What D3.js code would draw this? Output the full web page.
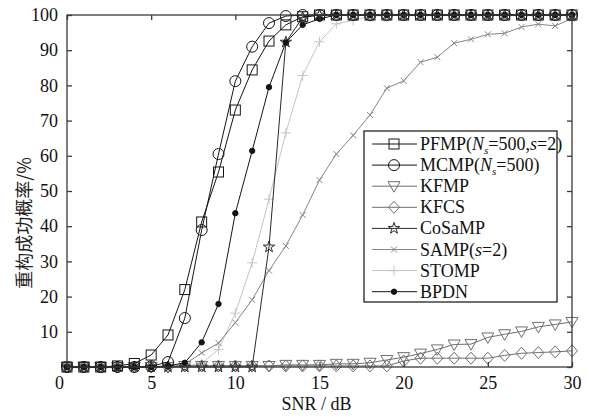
<!DOCTYPE html>
<html><head><meta charset="utf-8">
<script src="https://cdn.jsdelivr.net/npm/d3@7"></script>
<style>body{margin:0;background:#fff}svg{display:block}text{font-family:"Liberation Serif","Times New Roman",serif}</style>
</head><body>
<script>
const snr = [0,1,2,3,4,5,6,7,8,9,10,11,12,13,14,15,16,17,18,19,20,21,22,23,24,25,26,27,28,29,30];
const xTicks = [0,5,10,15,20,25,30];
const yTicks = [0,10,20,30,40,50,60,70,80,90,100];
const PFMP   = [0,0,0,0.3,1.0,3.4,9.1,22,41.2,55.4,73,84.4,92.6,97.2,99.5,100,100,100,100,100,100,100,100,100,100,100,100,100,100,100,100];
const MCMP   = [0,0,0,0,0,0.2,1.4,13.9,38.9,60.5,81.2,91,97.7,99.7,100,100,100,100,100,100,100,100,100,100,100,100,100,100,100,100,100];
const KFMP   = [0,0,0,0,0,0,0,0.3,0.3,0.3,0.3,0.3,0.3,0.6,0.6,0.6,0.9,0.9,1.2,2.0,2.8,3.8,5.0,6.4,6.5,8.4,9.3,10.1,11.4,12.1,12.8];
const KFCS   = [0,0,0,0,0,0,0,0.3,0.3,0.3,0.3,0.3,0.3,0.3,0.3,0.3,0.3,0.3,0.3,0.3,1.7,2.5,2.5,2.5,2.5,2.5,3.3,3.9,4.1,4.3,4.6];
const CoSaMP = [0,0,0,0,0,0,0,0,0,0,0,0,34.1,92.3,99.3,100,100,100,100,100,100,100,100,100,100,100,100,100,100,100,100];
const SAMP   = [0,0,0,0,0,0,0,0.8,4.0,6.8,12.6,19.1,27.4,34.4,43.2,53.1,60.5,65.8,71.6,79.2,81.3,86.6,88,92,93.1,94.5,94.8,96.6,97.4,96.9,99];
const STOMP  = [0,0,0,0,0,0,0,0.2,1.1,5.0,15.3,29.6,47.7,66.5,82.8,92.4,97.5,98.5,99.6,100,100,100,100,100,100,100,100,100,100,100,100];
const BPDN   = [0,0,0,0,0,0,0.3,1.2,7.0,17.9,43.7,61.4,79.5,92.2,97.2,98.9,100,100,100,100,100,100,100,100,100,100,100,100,100,100,100];

const W=589,H=420;
const m={l:67,r:17,t:15,b:53};
const svg=d3.select("body").append("svg").attr("width",W).attr("height",H);
const x=d3.scaleLinear().domain([0,30]).range([m.l,W-m.r]);
const y=d3.scaleLinear().domain([0,100]).range([H-m.b,m.t]);

function marker(g,type,col){
  if(type==="square") g.append("rect").attr("x",-5).attr("y",-5).attr("width",10).attr("height",10).attr("fill","none").attr("stroke",col);
  else if(type==="circle") g.append("circle").attr("r",5.5).attr("fill","none").attr("stroke",col);
  else if(type==="tri") g.append("path").attr("d","M-6,-4.5L6,-4.5L0,6Z").attr("fill","none").attr("stroke",col);
  else if(type==="diamond") g.append("path").attr("d","M0,-6L5.5,0L0,6L-5.5,0Z").attr("fill","none").attr("stroke",col);
  else if(type==="star") g.append("path").attr("d",d3.symbol(d3.symbolStar,40)()).attr("fill","none").attr("stroke",col);
  else if(type==="x") g.append("path").attr("d","M-3,-3L3,3M-3,3L3,-3").attr("stroke",col);
  else if(type==="plus") g.append("path").attr("d","M-5,0L5,0M0,-5L0,5").attr("stroke",col);
  else if(type==="dot") g.append("circle").attr("r",2.7).attr("fill",col).attr("stroke",col);
}

const series=[
  {name:"STOMP",v:STOMP,col:"#c4c4c4",mk:"plus"},
  {name:"SAMP",v:SAMP,col:"#858585",mk:"x"},
  {name:"KFCS",v:KFCS,col:"#6e6e6e",mk:"diamond"},
  {name:"KFMP",v:KFMP,col:"#6e6e6e",mk:"tri"},
  {name:"CoSaMP",v:CoSaMP,col:"#2a2a2a",mk:"star"},
  {name:"BPDN",v:BPDN,col:"#151515",mk:"dot"},
  {name:"MCMP",v:MCMP,col:"#151515",mk:"circle"},
  {name:"PFMP",v:PFMP,col:"#151515",mk:"square"}
];
const line=d3.line().x((d,i)=>x(snr[i])).y(d=>y(d));
series.forEach(s=>{
  svg.append("path").attr("d",line(s.v)).attr("fill","none").attr("stroke",s.col).attr("stroke-width",1);
  s.v.forEach((d,i)=>{
    const g=svg.append("g").attr("transform",`translate(${x(snr[i])},${y(d)})`).attr("stroke-width",1);
    marker(g,s.mk,s.col);
  });
});

const ax="#3a3a3a";
svg.append("rect").attr("x",x(0)).attr("y",y(100)).attr("width",x(30)-x(0)).attr("height",y(0)-y(100)).attr("fill","none").attr("stroke",ax).attr("stroke-width",1.3);
const axB=svg.append("g").attr("transform",`translate(0,${y(0)})`).call(d3.axisBottom(x).tickValues(xTicks).tickSizeInner(-5).tickSizeOuter(0).tickPadding(9));
const axT=svg.append("g").attr("transform",`translate(0,${y(100)})`).call(d3.axisTop(x).tickValues(xTicks).tickSizeInner(-5).tickSizeOuter(0).tickFormat(""));
const axL=svg.append("g").attr("transform",`translate(${x(0)},0)`).call(d3.axisLeft(y).tickValues(yTicks).tickSizeInner(-5).tickSizeOuter(0).tickPadding(9).tickFormat(d=>d===0?"":d));
const axR=svg.append("g").attr("transform",`translate(${x(30)},0)`).call(d3.axisRight(y).tickValues(yTicks).tickSizeInner(-5).tickSizeOuter(0).tickFormat(""));
[axB,axT,axL,axR].forEach(a=>{
  a.select(".domain").remove();
  a.selectAll("line").attr("stroke",ax).attr("stroke-width",1.3);
  a.selectAll("text").attr("fill","#111").style("font-family","'Liberation Serif',serif").style("font-size","18px");
});
axB.selectAll(".tick").filter(d=>d===0).select("text").attr("dx",-8);

svg.append("text").attr("x",(x(0)+x(30))/2-3).attr("y",410).attr("text-anchor","middle").attr("fill","#111").style("font-size","18px").text("SNR / dB");
svg.append("text").attr("transform",`translate(31,${(y(0)+y(100))/2+32}) rotate(-90)`).attr("text-anchor","middle").attr("fill","#222")
  .style("font-family","'Noto Sans CJK SC',sans-serif").style("font-size","18px").text("重构成功概率/%");

const legendOrder=["PFMP","MCMP","KFMP","KFCS","CoSaMP","SAMP","STOMP","BPDN"];
const lg=svg.append("g");
lg.append("rect").attr("x",364).attr("y",131).attr("width",193).attr("height",171).attr("fill","#fff").attr("stroke","#222").attr("stroke-width",1.3);
legendOrder.forEach((n,i)=>{
  const s=series.find(d=>d.name===n);
  const yy=144+i*21.1;
  lg.append("line").attr("x1",372).attr("x2",417).attr("y1",yy).attr("y2",yy).attr("stroke",s.col).attr("stroke-width",1);
  const g=lg.append("g").attr("transform",`translate(394,${yy})`).attr("stroke-width",1);
  marker(g,s.mk,s.col);
  const t=lg.append("text").attr("x",420).attr("y",yy+6).attr("fill","#111").style("font-size","18px");
  if(n==="PFMP"){
    t.append("tspan").text("PFMP(");
    t.append("tspan").style("font-style","italic").text("N");
    t.append("tspan").attr("dy",4).style("font-size","11px").style("font-style","italic").text("s");
    t.append("tspan").attr("dy",-4).text("=500,");
    t.append("tspan").style("font-style","italic").text("s");
    t.append("tspan").text("=2)");
  } else if(n==="MCMP"){
    t.append("tspan").text("MCMP(");
    t.append("tspan").style("font-style","italic").text("N");
    t.append("tspan").attr("dy",4).style("font-size","11px").style("font-style","italic").text("s");
    t.append("tspan").attr("dy",-4).text("=500)");
  } else if(n==="SAMP"){
    t.append("tspan").text("SAMP(");
    t.append("tspan").style("font-style","italic").text("s");
    t.append("tspan").text("=2)");
  } else t.text(n);
});
</script>
</body></html>
